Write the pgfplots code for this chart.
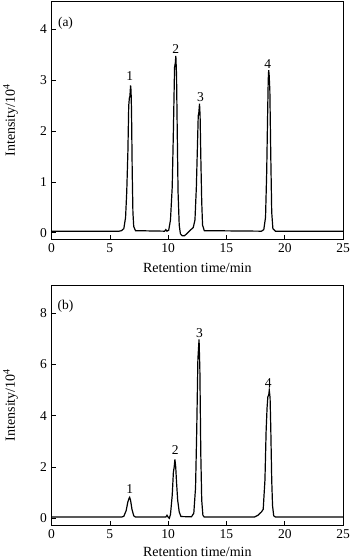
\documentclass[border=0pt]{standalone}
\usepackage{fontspec}
\setmainfont{Liberation Serif}
\usepackage{pgfplots}
\pgfplotsset{compat=1.18}
\begin{document}
\begin{tikzpicture}
\useasboundingbox (0pt,-560pt) rectangle (350pt,0pt);
\pgfplotsset{chrom/.style={
  scale only axis, width=291.6pt, xmin=0, xmax=25, xtick={0,5,...,25},
  tick align=inside, tick pos=left, major tick length=4pt,
  every tick/.style={black, line width=0.6pt},
  axis line style={line width=0.8pt},
  /pgf/number format/assume math mode=true,
  ticklabel style={font=\fontsize{13.5}{15}\selectfont},
  xlabel={Retention time/min}, ylabel={Intensity/10\textsuperscript{4}},
  every axis x label/.style={at={([yshift=-29pt]axis description cs:0.5,0)}, anchor=center, font=\fontsize{14}{16}\selectfont},
  every axis y label/.style={at={([xshift=-41pt]axis description cs:0,0.5)}, rotate=90, anchor=center, font=\fontsize{14}{16}\selectfont},
  xticklabel style={yshift=-1pt},
  yticklabel style={xshift=-1pt},
  clip=false,
}}
\begin{axis}[chrom, at={(51.5pt,-239.3pt)}, anchor=south west, height=238.3pt,
  ymin=-0.13, ymax=4.56, ytick={0,1,2,3,4}]
\addplot[black, line width=1.2pt] coordinates {
(0,0.03) (5.8,0.03) (6.0,0.04) (6.2,0.08) (6.35,0.3) (6.45,0.8) (6.55,1.6) (6.62,2.5)
(6.68,2.66) (6.72,2.68) (6.78,2.9) (6.82,2.8) (6.86,2.4) (6.92,1.2) (6.98,0.4) (7.05,0.12)
(7.2,0.04) (9.7,0.03) (9.8,0.06) (9.9,0.03) (10.05,0.05) (10.2,0.25) (10.35,0.9) (10.45,2.0)
(10.55,3.25) (10.62,3.35) (10.66,3.48) (10.72,3.1) (10.78,2.0) (10.85,0.8) (10.95,0.15)
(11.05,-0.02) (11.2,-0.06) (11.4,-0.06) (11.6,-0.02) (11.9,0.05) (12.15,0.1) (12.3,0.25)
(12.42,0.9) (12.5,1.6) (12.58,2.3) (12.63,2.36) (12.69,2.54) (12.74,2.3) (12.8,1.5)
(12.88,0.6) (12.95,0.15) (13.1,0.04) (18.0,0.03) (18.2,0.06) (18.35,0.3) (18.45,1.2)
(18.52,2.2) (18.58,3.0) (18.62,3.2) (18.66,3.1) (18.72,2.8) (18.8,1.5) (18.88,0.4)
(18.98,0.08) (19.2,0.03) (25,0.03)};
\node[font=\fontsize{13.5}{15}\selectfont] at (axis cs:6.7,3.09) {1};
\node[font=\fontsize{13.5}{15}\selectfont] at (axis cs:10.66,3.61) {2};
\node[font=\fontsize{13.5}{15}\selectfont] at (axis cs:12.77,2.66) {3};
\node[font=\fontsize{13.5}{15}\selectfont] at (axis cs:18.53,3.31) {4};
\node[font=\fontsize{13.5}{15}\selectfont] at (axis cs:1.2,4.13) {(a)};
\end{axis}
\begin{axis}[chrom, at={(51.5pt,-525pt)}, anchor=south west, height=240pt,
  ymin=-0.26, ymax=9.1, ytick={0,2,4,6,8},
  every axis x label/.append style={at={([yshift=-27pt]axis description cs:0.5,0)}}]
\addplot[black, line width=1.2pt] coordinates {
(0,0.05) (6.0,0.05) (6.2,0.08) (6.4,0.3) (6.55,0.65) (6.65,0.78) (6.7,0.82) (6.78,0.7)
(6.9,0.35) (7.05,0.1) (7.2,0.05) (9.8,0.05) (9.9,0.12) (10.0,0.05) (10.1,0.0) (10.2,0.15)
(10.35,0.9) (10.45,1.8) (10.52,2.0) (10.58,2.3) (10.65,2.0) (10.72,1.4) (10.82,0.7)
(10.95,0.25) (11.1,0.07) (12.0,0.06) (12.2,0.2) (12.35,1.2) (12.45,3.4) (12.55,6.2)
(12.65,6.98) (12.72,5.8) (12.8,2.5) (12.88,0.7) (12.98,0.12) (13.1,0.05) (17.4,0.05)
(17.7,0.12) (18.0,0.25) (18.15,0.35) (18.3,1.5) (18.4,3.4) (18.48,4.3) (18.55,4.75)
(18.62,4.8) (18.67,5.0) (18.74,4.7) (18.8,3.5) (18.88,1.5) (18.95,0.5) (19.05,0.1)
(19.2,0.05) (25,0.05)};
\node[font=\fontsize{13.5}{15}\selectfont] at (axis cs:6.7,1.14) {1};
\node[font=\fontsize{13.5}{15}\selectfont] at (axis cs:10.6,2.67) {2};
\node[font=\fontsize{13.5}{15}\selectfont] at (axis cs:12.69,7.24) {3};
\node[font=\fontsize{13.5}{15}\selectfont] at (axis cs:18.59,5.27) {4};
\node[font=\fontsize{13.5}{15}\selectfont] at (axis cs:1.2,8.26) {(b)};
\end{axis}
\end{tikzpicture}
\end{document}
